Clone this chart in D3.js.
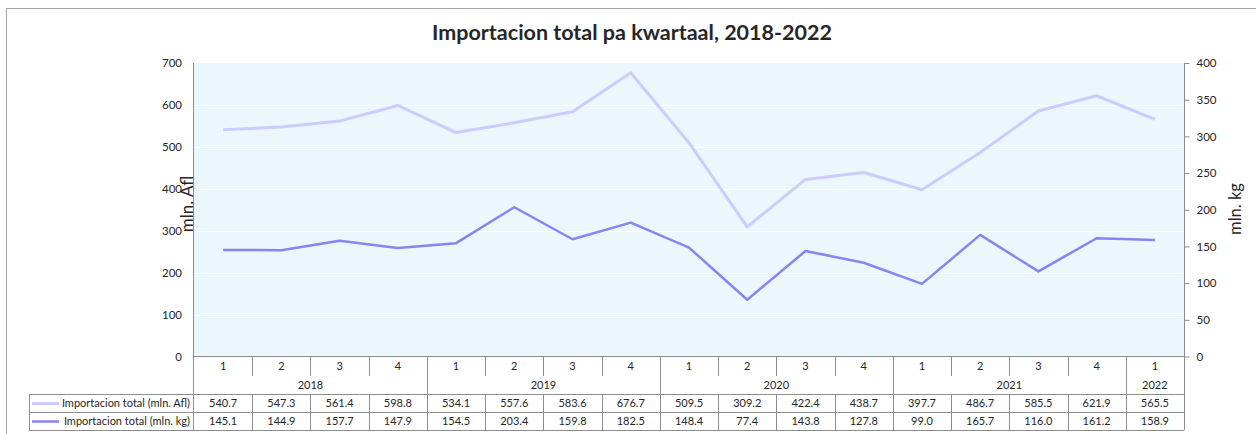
<!DOCTYPE html>
<html>
<head>
<meta charset="utf-8">
<script src="https://cdn.jsdelivr.net/npm/d3@7"></script>
<style>
  body { margin: 0; background: #fff; }
  svg { display: block; font-family: Lato, "Open Sans", sans-serif; }
</style>
</head>
<body>
<svg id="chart" width="1256" height="434"></svg>
<script>
(function() {
"use strict";

var quarters = ["1", "2", "3", "4", "1", "2", "3", "4", "1", "2", "3", "4", "1", "2", "3", "4", "1"];
var years = [
  {label: "2018", n: 4},
  {label: "2019", n: 4},
  {label: "2020", n: 4},
  {label: "2021", n: 4},
  {label: "2022", n: 1}
];
var afl = [540.7, 547.3, 561.4, 598.8, 534.1, 557.6, 583.6, 676.7, 509.5, 309.2, 422.4, 438.7, 397.7, 486.7, 585.5, 621.9, 565.5];
var kg = [145.1, 144.9, 157.7, 147.9, 154.5, 203.4, 159.8, 182.5, 148.4, 77.4, 143.8, 127.8, 99.0, 165.7, 116.0, 161.2, 158.9];
var leftTicks = [0, 100, 200, 300, 400, 500, 600, 700];
var rightTicks = [0, 50, 100, 150, 200, 250, 300, 350, 400];

var series = [
  {name: "Importacion total (mln. Afl)", values: afl, color: "#ccccff", width: 3, axis: "left"},
  {name: "Importacion total (mln. kg)", values: kg, color: "#8585f5", width: 2.5, axis: "right"}
];

var svg = d3.select("#chart");
var textColor = "#262626";
var gridColor = "#8c8c8c";

var left = 194, right = 1184, top = 63, bottom = 356.5;
var rowY = [bottom, 376, 394, 412, 430];
var legendLeft = 29;

var x = d3.scaleBand().domain(d3.range(quarters.length)).range([left, right]);
var yL = d3.scaleLinear().domain([0, 700]).range([bottom, top]);
var yR = d3.scaleLinear().domain([0, 400]).range([bottom, top]);

// outer frame
svg.append("rect")
  .attr("x", 6.5).attr("y", 8.5)
  .attr("width", 1300).attr("height", 500)
  .attr("fill", "none").attr("stroke", "#a6a6a6");

svg.append("text")
  .attr("x", 632).attr("y", 40)
  .attr("text-anchor", "middle")
  .attr("font-weight", "bold")
  .attr("font-size", 21.5)
  .attr("fill", textColor)
  .text("Importacion total pa kwartaal, 2018-2022");

// plot area
svg.append("rect")
  .attr("x", left).attr("y", top)
  .attr("width", right - left).attr("height", bottom - top)
  .attr("fill", "#ebf6fd");

svg.append("g")
  .selectAll("line")
  .data(leftTicks.slice(1, -1))
  .join("line")
  .attr("x1", left).attr("x2", right)
  .attr("y1", function(d) { return Math.round(yL(d)) + 0.5; })
  .attr("y2", function(d) { return Math.round(yL(d)) + 0.5; })
  .attr("stroke", "#ffffff")
  .attr("stroke-width", 1);

// left axis
var gl = svg.append("g")
  .attr("transform", "translate(" + (left - 12) + ",0)")
  .call(d3.axisLeft(yL).tickValues(leftTicks).tickSize(0).tickPadding(0));
gl.select(".domain").remove();
gl.selectAll("text").attr("font-size", 11.5).attr("fill", textColor).attr("font-family", "Lato, sans-serif");

svg.append("line")
  .attr("x1", left - 0.5).attr("x2", left - 0.5)
  .attr("y1", top).attr("y2", rowY[4])
  .attr("stroke", gridColor);

// right axis
var gr = svg.append("g")
  .attr("transform", "translate(" + (right + 0.5) + ",0)")
  .call(d3.axisRight(yR).tickValues(rightTicks).tickSize(5).tickPadding(7));
gr.select(".domain").attr("stroke", gridColor).attr("d", "M0," + top + "V" + rowY[4]);
gr.selectAll(".tick line").attr("stroke", gridColor);
gr.selectAll("text").attr("font-size", 11.5).attr("fill", textColor).attr("font-family", "Lato, sans-serif");

// axis titles
svg.append("text")
  .attr("transform", "translate(193,204) rotate(-90)")
  .attr("text-anchor", "middle")
  .attr("font-size", 17)
  .attr("fill", textColor)
  .text("mln. Afl");

svg.append("text")
  .attr("transform", "translate(1241,209) rotate(-90)")
  .attr("text-anchor", "middle")
  .attr("font-size", 16.5)
  .attr("fill", textColor)
  .text("mln. kg");

// lines
series.forEach(function(s) {
  var y = s.axis === "left" ? yL : yR;
  var line = d3.line()
    .x(function(d, i) { return x(i) + x.bandwidth() / 2; })
    .y(function(d) { return y(d); });
  svg.append("path")
    .datum(s.values)
    .attr("d", line)
    .attr("fill", "none")
    .attr("stroke", s.color)
    .attr("stroke-width", s.width)
    .attr("stroke-linejoin", "round");
});

// data table
var table = svg.append("g").attr("stroke", gridColor).attr("shape-rendering", "crispEdges");

table.append("line")
  .attr("x1", left).attr("x2", right)
  .attr("y1", rowY[0]).attr("y2", rowY[0]);

// quarter dividers
table.selectAll(".qdiv")
  .data(d3.range(1, quarters.length))
  .join("line")
  .attr("class", "qdiv")
  .attr("x1", function(i) { return Math.round(x(i)) + 0.5; })
  .attr("x2", function(i) { return Math.round(x(i)) + 0.5; })
  .attr("y1", rowY[0]).attr("y2", rowY[1]);

// year dividers
var cum = 0;
var yearStarts = years.map(function(yr) { var s = cum; cum += yr.n; return s; });
table.selectAll(".ydiv")
  .data(yearStarts.slice(1))
  .join("line")
  .attr("class", "ydiv")
  .attr("x1", function(i) { return Math.round(x(i)) + 0.5; })
  .attr("x2", function(i) { return Math.round(x(i)) + 0.5; })
  .attr("y1", rowY[1]).attr("y2", rowY[2]);

// data rows grid
[rowY[2], rowY[3], rowY[4]].forEach(function(yy) {
  table.append("line")
    .attr("x1", legendLeft).attr("x2", right)
    .attr("y1", yy + 0.5).attr("y2", yy + 0.5);
});
table.append("line")
  .attr("x1", legendLeft + 0.5).attr("x2", legendLeft + 0.5)
  .attr("y1", rowY[2]).attr("y2", rowY[4]);
table.selectAll(".ddiv")
  .data(d3.range(1, quarters.length))
  .join("line")
  .attr("class", "ddiv")
  .attr("x1", function(i) { return Math.round(x(i)) + 0.5; })
  .attr("x2", function(i) { return Math.round(x(i)) + 0.5; })
  .attr("y1", rowY[2]).attr("y2", rowY[4]);

var cellFont = 11;

svg.append("g")
  .selectAll("text")
  .data(quarters)
  .join("text")
  .attr("x", function(d, i) { return x(i) + x.bandwidth() / 2; })
  .attr("y", (rowY[0] + rowY[1]) / 2 + 4)
  .attr("text-anchor", "middle")
  .attr("font-size", cellFont)
  .attr("fill", textColor)
  .text(function(d) { return d; });

svg.append("g")
  .selectAll("text")
  .data(years)
  .join("text")
  .attr("x", function(d, i) {
    return (x(yearStarts[i]) + x(yearStarts[i] + d.n - 1) + x.bandwidth()) / 2;
  })
  .attr("y", (rowY[1] + rowY[2]) / 2 + 4)
  .attr("text-anchor", "middle")
  .attr("font-size", cellFont)
  .attr("fill", textColor)
  .text(function(d) { return d.label; });

series.forEach(function(s, r) {
  var cy = (rowY[2 + r] + rowY[3 + r]) / 2;
  svg.append("line")
    .attr("x1", legendLeft + 3).attr("x2", 59)
    .attr("y1", cy + 0.5).attr("y2", cy + 0.5)
    .attr("stroke", s.color)
    .attr("stroke-width", s.width);
  svg.append("text")
    .attr("x", left - 4).attr("y", cy + 4)
    .attr("text-anchor", "end")
    .attr("font-size", cellFont)
    .attr("fill", textColor)
    .text(s.name);
  svg.append("g")
    .selectAll("text")
    .data(s.values)
    .join("text")
    .attr("x", function(d, i) { return x(i) + x.bandwidth() / 2; })
    .attr("y", cy + 4)
    .attr("text-anchor", "middle")
    .attr("font-size", cellFont)
    .attr("fill", textColor)
    .text(function(d) { return d.toFixed(1); });
});

})();
</script>
</body>
</html>
